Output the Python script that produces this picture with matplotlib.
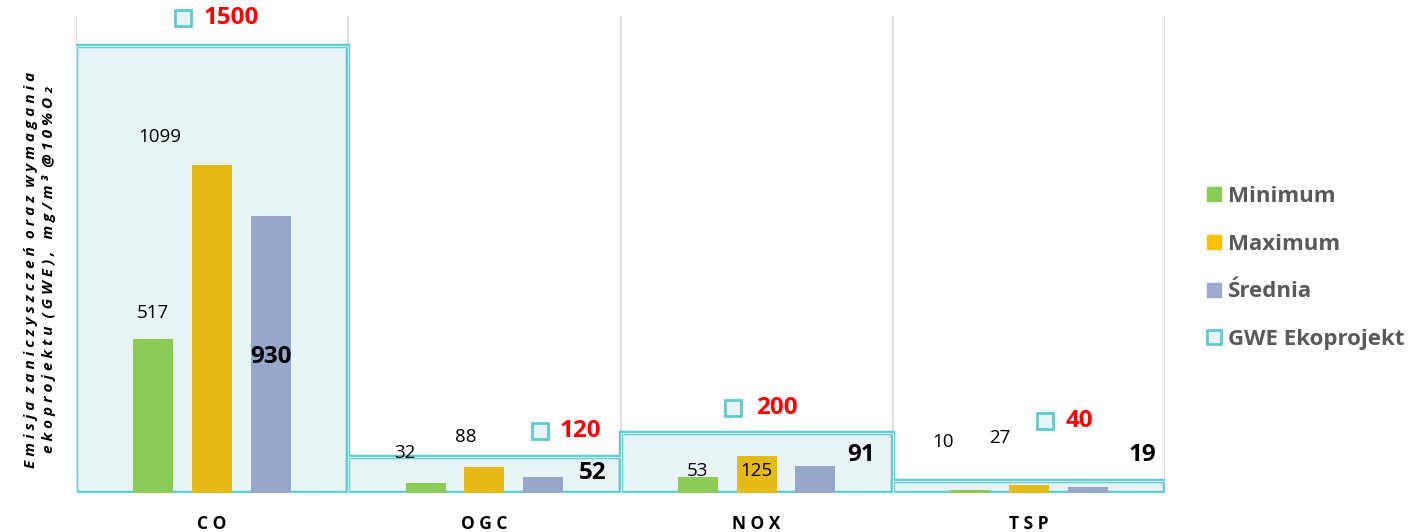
import numpy as np
import matplotlib.pyplot as plt

# data
categories = ['C O', 'O G C', 'N O X', 'T S P']
minimum = [517, 32, 53, 10]
maximum = [1099, 88, 125, 27]
srednia = [930, 52, 91, 19]
gwe = [1500, 120, 200, 40]

# label placement (x offset from category centre, y in data units)
min_lbl = [(-0.217, 604), (-0.292, 134), (-0.219, 74), (-0.315, 171)]
max_lbl = [(-0.191, 1195), (-0.067, 188), (-0.002, 74), (-0.106, 185)]
sr_lbl = [(0.216, 456), (0.399, 67), (0.383, 128), (0.416, 128)]
gwe_mk = [(-0.107, 1594), (0.204, 208), (-0.087, 285), (0.059, 242)]
gwe_txt = [0.069, 0.351, 0.075, 0.184]

plt.rcParams['font.family'] = ['Open Sans', 'DejaVu Sans']

c_min = '#8CCB55'
c_max = '#E6BA14'
c_sr = '#96A8C9'
c_gwe_face = '#E8F3F5'
c_gwe_edge = '#5CCBD0'

fig = plt.figure(figsize=(14.11, 5.32), dpi=100)
ax = fig.add_axes([76/1411, 1-493/532, (1165-76)/1411, (493-16)/532])
x = np.arange(len(categories))

# GWE wide boxes (double outline)
ax.bar(x, gwe, width=1.0, color=c_gwe_face, edgecolor=c_gwe_edge, linewidth=3.2, zorder=1)
ax.bar(x, gwe, width=1.0, color='none', edgecolor='#C4ECEE', linewidth=0.9, zorder=1.1)

w = 0.147
ax.bar(x - 0.216, minimum, width=w, color=c_min, zorder=2)
ax.bar(x, maximum, width=w, color=c_max, zorder=2)
ax.bar(x + 0.216, srednia, width=w, color=c_sr, zorder=2)

for i in range(len(categories)):
    ax.text(i + min_lbl[i][0], min_lbl[i][1], str(minimum[i]), ha='center', va='center',
            fontsize=13.5, color='black')
    ax.text(i + max_lbl[i][0], max_lbl[i][1], str(maximum[i]), ha='center', va='center',
            fontsize=13.5, color='black', zorder=3)
    ax.text(i + sr_lbl[i][0], sr_lbl[i][1], str(srednia[i]), ha='center', va='center',
            fontsize=17.5, fontweight='bold', color='black')
    ax.plot(i + gwe_mk[i][0], gwe_mk[i][1], marker='s', markersize=11,
            markerfacecolor=c_gwe_face, markeredgecolor=c_gwe_edge, markeredgewidth=2,
            clip_on=False, zorder=4)
    ax.text(i + gwe_txt[i], gwe_mk[i][1], str(gwe[i]), ha='center', va='center',
            fontsize=17.5, fontweight='bold', color='#FF0000')

ax.set_xlim(-0.5, len(categories) - 0.5)
ax.set_ylim(0, 1600)
for b in np.arange(len(categories) + 1) - 0.5:
    ax.axvline(b, color='#D9D9D9', linewidth=1.2, zorder=0)
for s in ax.spines.values():
    s.set_visible(False)
ax.set_yticks([])
ax.set_xticks(x)
ax.set_xticklabels(categories, fontsize=12.5, fontweight='bold')
ax.tick_params(axis='x', length=0, pad=16)

# y axis title
fig.text(40/1411, 1 - 270/532,
         'E m i s j a  z a n i c z y s z c z e ń  o r a z  w y m a g a n i a\n'
         'e k o p r o j e k t u  ( G W E ) ,   m g / m ³  @ 1 0 % O ₂',
         rotation=90, ha='center', va='center', multialignment='center',
         fontsize=11, fontweight='bold', style='italic', linespacing=1.35)

# legend
leg_items = [('Minimum', c_min, c_min, 1), ('Maximum', '#FFC000', '#FFC000', 1),
             ('Średnia', '#A0AACC', '#A0AACC', 1), ('GWE Ekoprojekt', c_gwe_face, c_gwe_edge, 2)]
handles = [plt.Line2D([], [], linestyle='none', marker='s', markersize=10,
                      markerfacecolor=fc, markeredgecolor=ec, markeredgewidth=mw)
           for _, fc, ec, mw in leg_items]
fig.legend(handles, [t[0] for t in leg_items], loc='center left',
           bbox_to_anchor=(1187/1411, 1 - 268/532), frameon=False,
           prop={'size': 16, 'weight': 'bold'}, labelcolor='#595959',
           handlelength=0.6, handletextpad=0.35, labelspacing=1.2)

fig.savefig('out.png', dpi=100)
